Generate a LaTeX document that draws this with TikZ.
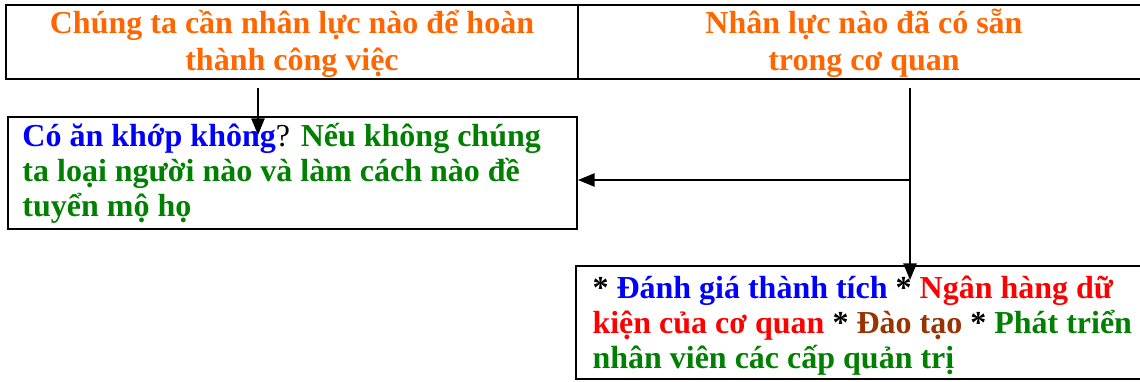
\documentclass[tikz,border=0pt]{standalone}
\usepackage{fontspec}
\setmainfont{Liberation Serif}
\usetikzlibrary{arrows.meta}

\definecolor{headOrange}{RGB}{255,102,0}
\definecolor{askBlue}{RGB}{0,0,255}
\definecolor{hrGreen}{RGB}{0,128,0}
\definecolor{bankRed}{RGB}{255,0,0}
\definecolor{trainBrown}{RGB}{153,51,0}

\tikzset{every picture/.style={line width=0.75pt}}

\begin{document}
\begin{tikzpicture}[x=0.75pt,y=0.75pt,yscale=-1,xscale=1,
  cell/.style={draw, line width=1.5pt, inner sep=0pt},
  bigtext/.style={font=\fontsize{24}{27.75}\selectfont\bfseries, inner sep=0pt},
  flow/.style={line width=1.2pt, -{Triangle[length=12.5pt,width=10pt]}}]
\useasboundingbox (0,0) rectangle (1140,382);
\clip (0,0) rectangle (1140,382);

%Shape: Rectangle [need]
\node [cell, minimum width=429pt, minimum height=55.5pt] (needBox) at (292,42) {};
%Shape: Rectangle [have]
\node [cell, minimum width=429pt, minimum height=55.5pt] (haveBox) at (864,42) {};
%Shape: Rectangle [fit]
\node [cell, minimum width=426.75pt, minimum height=84pt] (fitBox) at (292.5,173) {};
%Shape: Rectangle [source]
\node [cell, minimum width=430.5pt, minimum height=84.75pt] (sourceBox) at (863,322.5) {};

% Text Node (anchored on its last line)
\node [bigtext, anchor=base, align=center, text=headOrange] (needText) at (292,70)
  {Chúng ta cần nhân lực nào để hoàn\\thành công việc};
% Text Node
\node [bigtext, anchor=base, align=center, text=headOrange] (haveText) at (864,70)
  {Nhân lực nào đã có sẵn\\trong cơ quan};
% Text Node
\node [bigtext, anchor=base west, align=left, font=\fontsize{24}{26.25}\selectfont\bfseries] (fitText) at (22,216)
  {\textcolor{askBlue}{Có ăn khớp không}{\mdseries?} \textcolor{hrGreen}{Nếu không chúng}\\
   \textcolor{hrGreen}{ta loại người nào và làm cách nào đề}\\
   \textcolor{hrGreen}{tuyển mộ họ}};
% Text Node
\node [bigtext, anchor=base west, align=left, font=\fontsize{24}{26.25}\selectfont\bfseries] (sourceText) at (592,368)
  {* \textcolor{askBlue}{Đánh giá thành tích} * \textcolor{bankRed}{Ngân hàng dữ}\\
   \textcolor{bankRed}{kiện của cơ quan} * \textcolor{trainBrown}{Đào tạo} * \textcolor{hrGreen}{Phát triển}\\
   \textcolor{hrGreen}{nhân viên các cấp quản trị}};

%Straight Lines [need -> fit]
\coordinate (needFoot) at (258,88);
\coordinate (fitHit) at (258,135);
\draw [flow] (needFoot) -- (fitHit);
%Straight Lines [have -> source]
\coordinate (haveFoot) at (910,88);
\coordinate (sourceHit) at (910,280);
\coordinate (haveBranch) at (910,180);
\draw [flow] (haveFoot) -- (sourceHit);
%Straight Lines [have -> fit]
\draw [flow] (haveBranch) -- (haveBranch -| fitBox.east);

\end{tikzpicture}
\end{document}
